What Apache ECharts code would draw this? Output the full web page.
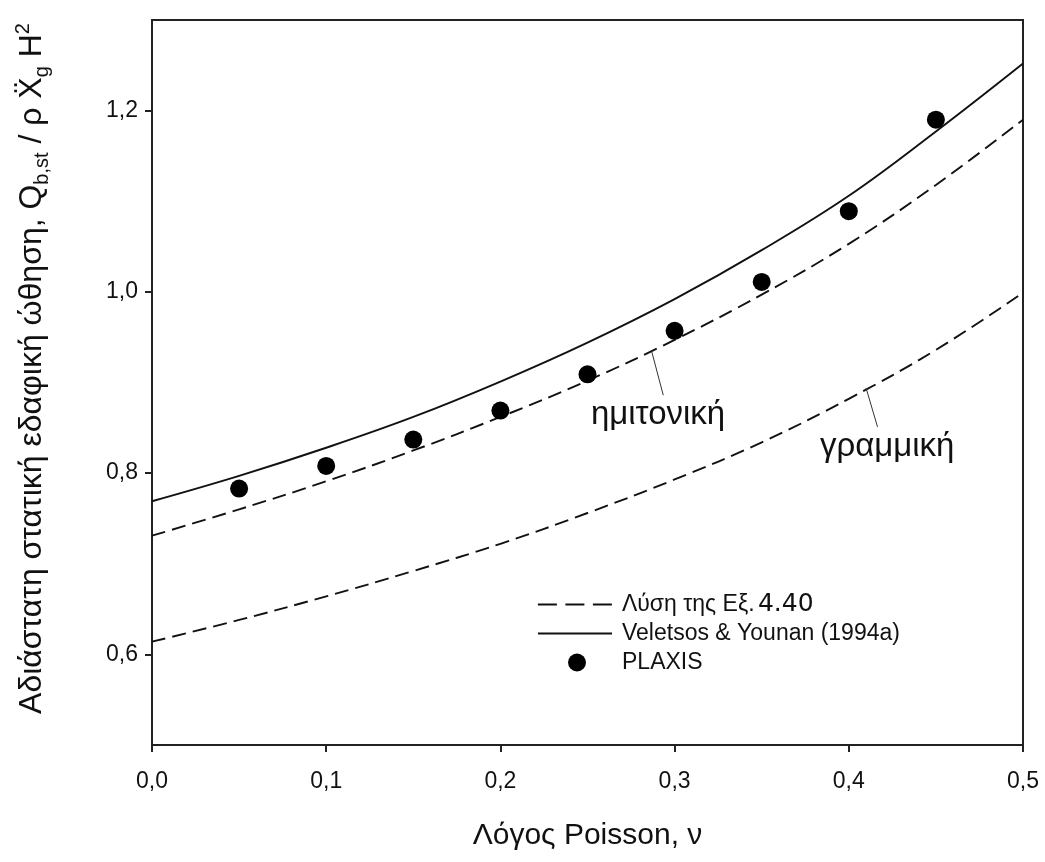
<!DOCTYPE html>
<html>
<head>
<meta charset="utf-8">
<script src="https://cdn.jsdelivr.net/npm/echarts@6/dist/echarts.min.js"></script>
<style>
html,body{margin:0;padding:0;background:#fff;}
#chart{width:1045px;height:862px;}
</style>
</head>
<body>
<div id="chart"></div>
<script>
// ---- data ----
const nu = [0, 0.05, 0.10, 0.15, 0.20, 0.25, 0.30, 0.35, 0.40, 0.45, 0.50];
const sinusoidal = [0.731, 0.760, 0.791, 0.825, 0.862, 0.902, 0.947, 0.997, 1.053, 1.118, 1.190];
const linear     = [0.614, 0.638, 0.664, 0.692, 0.722, 0.756, 0.793, 0.834, 0.882, 0.936, 0.999];
const veletsos   = [0.769, 0.797, 0.828, 0.862, 0.901, 0.944, 0.992, 1.046, 1.106, 1.177, 1.252];
const plaxisNu   = [0.05, 0.10, 0.15, 0.20, 0.25, 0.30, 0.35, 0.40, 0.45];
const plaxisQ    = [0.783, 0.808, 0.837, 0.869, 0.909, 0.957, 1.011, 1.089, 1.190];
const xTicks = [0, 0.1, 0.2, 0.3, 0.4, 0.5];
const yTicks = [0.6, 0.8, 1.0, 1.2];
const nameEq = 'Λύση της Εξ.  4.40';
const nameVY = 'Veletsos & Younan (1994a)';
const namePL = 'PLAXIS';
// annotation leaders (data coords)
const sinLeader = [[0.2869, 0.934], [0.2935, 0.886]];
const linLeader = [[0.4099, 0.894], [0.4165, 0.851]];

const pairs = (xs, ys) => xs.map((x, i) => [x, ys[i]]);
const FONT = "'Liberation Sans', Arial, sans-serif";
const fmt = v => v.toFixed(1).replace('.', ',');

const chart = echarts.init(document.getElementById('chart'), null, {renderer: 'canvas'});
const dashed = {color: '#111', width: 1.9, type: [14, 7]};
const legendBase = {itemHeight: 14, padding: 0, itemStyle: {opacity: 0}};

const option = {
  backgroundColor: '#fff',
  animation: false,
  grid: {left: 152, right: 22, top: 20, bottom: 117, show: true, borderColor: '#222', borderWidth: 2, backgroundColor: 'transparent'},
  xAxis: {
    type: 'value', min: 0, max: 0.5, interval: 0.1,
    axisLine: {show: true, onZero: false, lineStyle: {color: '#222', width: 2}},
    axisTick: {show: true, inside: false, length: 7, lineStyle: {color: '#222', width: 2}, customValues: xTicks},
    axisLabel: {margin: 25, fontSize: 23, color: '#111', fontFamily: FONT, formatter: fmt, customValues: xTicks},
    splitLine: {show: false},
    name: 'Λόγος Poisson, ν', nameLocation: 'middle', nameGap: 76,
    nameTextStyle: {fontSize: 30, color: '#111', fontFamily: FONT}
  },
  yAxis: {
    type: 'value', min: 0.5, max: 1.3,
    axisLine: {show: true, onZero: false, lineStyle: {color: '#222', width: 2}},
    axisTick: {show: true, inside: false, length: 7, lineStyle: {color: '#222', width: 2}, customValues: yTicks},
    axisLabel: {margin: 14, fontSize: 23, color: '#111', fontFamily: FONT, formatter: fmt, customValues: yTicks},
    splitLine: {show: false},
    name: '{t|Αδιάστατη στατική εδαφική ώθηση, Q}{s|b,st}{t| / ρ Ẍ}{s|g}{t| H}{p|2}',
    nameLocation: 'middle', nameGap: 100,
    nameTextStyle: {
      padding: [0, 0, 0, 28],
      rich: {
        t: {fontSize: 32, lineHeight: 39, color: '#111', fontFamily: FONT},
        s: {fontSize: 20, lineHeight: 20, verticalAlign: 'bottom', color: '#111', fontFamily: FONT},
        p: {fontSize: 20, lineHeight: 20, verticalAlign: 'top', color: '#111', fontFamily: FONT}
      }
    }
  },
  legend: [
    Object.assign({}, legendBase, {data: [nameEq], left: 537, top: 592, itemWidth: 74,
     lineStyle: {type: [19, 8.5], width: 1.8, color: '#111'},
     formatter: () => '{a|Λύση της Εξ.} {b|4.40}',
     textStyle: {color: '#111', padding: [0, 0, 0, 5], rich: {a: {fontSize: 23, fontFamily: FONT, color: '#111'}, b: {fontSize: 25, fontFamily: "'DejaVu Sans', sans-serif", color: '#111'}}}}),
    Object.assign({}, legendBase, {data: [nameVY], left: 537, top: 622, itemWidth: 74,
     textStyle: {fontSize: 23, fontFamily: FONT, color: '#111', padding: [0, 0, 0, 5]}}),
    {data: [namePL], left: 568, top: 651, itemWidth: 18, itemHeight: 18, padding: 0,
     textStyle: {fontSize: 23, fontFamily: FONT, color: '#111', padding: [0, 0, 0, 31]}}
  ],
  series: [
    {name: nameEq, type: 'line', smooth: 0.4, symbol: 'none', data: pairs(nu, sinusoidal), lineStyle: dashed, itemStyle: {color: '#111'}, z: 3,
     markLine: {silent: true, symbol: 'none', lineStyle: {color: '#333', width: 1, type: 'solid'},
       label: {show: true, position: 'end', formatter: 'ημιτονική', fontSize: 33, color: '#111', fontFamily: FONT, distance: 3, padding: [0, 12, 0, 0]},
       data: [[{coord: sinLeader[0]}, {coord: sinLeader[1]}]]}},
    {name: nameEq, type: 'line', smooth: 0.4, symbol: 'none', data: pairs(nu, linear), lineStyle: dashed, itemStyle: {color: '#111'}, z: 3,
     markLine: {silent: true, symbol: 'none', lineStyle: {color: '#333', width: 1, type: 'solid'},
       label: {show: true, position: 'end', formatter: 'γραμμική', fontSize: 33, color: '#111', fontFamily: FONT, distance: 4, padding: [0, 0, 0, 17]},
       data: [[{coord: linLeader[0]}, {coord: linLeader[1]}]]}},
    {name: nameVY, type: 'line', smooth: 0.4, symbol: 'none', data: pairs(nu, veletsos), lineStyle: {color: '#111', width: 1.9, type: 'solid'}, itemStyle: {color: '#111'}, z: 3},
    {name: namePL, type: 'scatter', symbol: 'circle', symbolSize: 18, data: pairs(plaxisNu, plaxisQ), itemStyle: {color: '#000', opacity: 1}, z: 4}
  ]
};
chart.setOption(option);
</script>
</body>
</html>
